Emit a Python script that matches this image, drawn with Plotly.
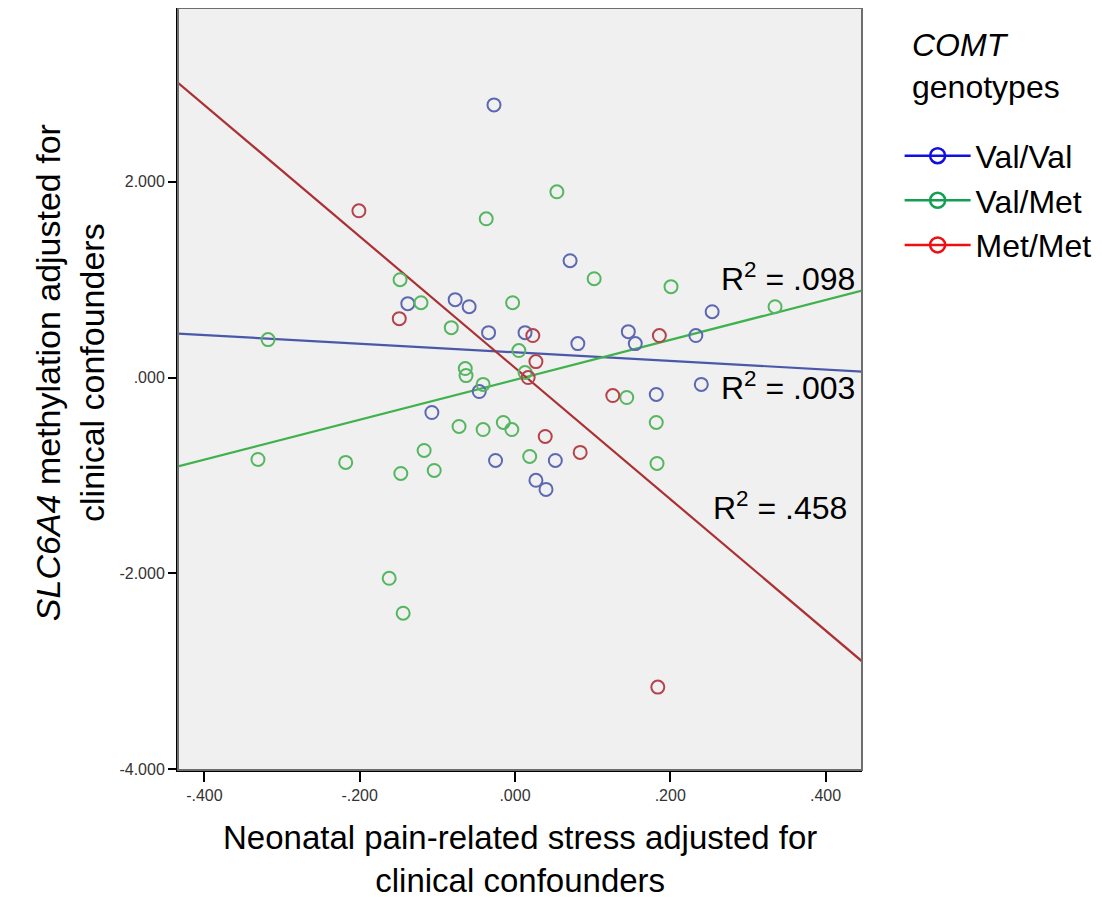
import plotly.graph_objects as go

# ---- data ----
groups = ["Val/Val", "Val/Met", "Met/Met"]

valval_x = [-0.027, 0.071, -0.077, -0.059, -0.138, -0.034, 0.013, 0.081, 0.146, 0.155,
            0.233, 0.254, 0.240, 0.182, -0.046, -0.107, -0.025, 0.052, 0.027, 0.040]
valval_y = [2.786, 1.194, 0.796, 0.724, 0.755, 0.459, 0.459, 0.347, 0.469, 0.347,
            0.429, 0.673, -0.070, -0.173, -0.143, -0.357, -0.847, -0.847, -1.050, -1.143]

valmet_x = [0.054, -0.037, 0.102, 0.201, 0.335, -0.003, -0.148, -0.121, -0.082, -0.318,
            0.005, -0.064, -0.063, -0.041, 0.013, 0.144, 0.182, 0.183, 0.019, -0.072,
            -0.041, -0.015, -0.004, -0.117, -0.104, -0.147, -0.331, -0.218, -0.162, -0.144]
valmet_y = [1.898, 1.622, 1.010, 0.929, 0.724, 0.765, 1.000, 0.765, 0.510, 0.388,
            0.276, 0.092, 0.020, -0.070, 0.051, -0.204, -0.459, -0.878, -0.806, -0.500,
            -0.531, -0.459, -0.531, -0.745, -0.949, -0.980, -0.837, -0.867, -2.051, -2.408]

metmet_x = [-0.201, -0.149, 0.023, 0.027, 0.017, 0.186, 0.126, 0.039, 0.084, 0.184]
metmet_y = [1.704, 0.602, 0.429, 0.163, 0.000, 0.429, -0.184, -0.602, -0.765, -3.163]

# fitted lines (intercept, slope) and R^2 labels
fit_intercept = [0.258, -0.023, 0.100]
fit_slope = [-0.44, 2.04, -6.71]
r2_labels = [".003", ".098", ".458"]
r2_pos_x = [0.440, 0.441, 0.430]
r2_pos_y = [-0.09, 1.03, -1.31]

x_ticks = [-0.4, -0.2, 0.0, 0.2, 0.4]
x_ticktext = ["-.400", "-.200", ".000", ".200", ".400"]
y_ticks = [-4, -2, 0, 2]
y_ticktext = ["-4.000", "-2.000", ".000", "2.000"]
x_range = [-0.434, 0.447]
y_range = [-4.01, 3.776]

marker_colors = ["#5d68b2", "#55b660", "#b4434b"]
line_colors = ["#4a58aa", "#3fb24d", "#aa3033"]
legend_colors = ["#1010e0", "#12a050", "#ee1010"]

FONT = "Arial, Liberation Sans, sans-serif"

fig = go.Figure()

xs = [valval_x, valmet_x, metmet_x]
ys = [valval_y, valmet_y, metmet_y]

# regression lines
for i in range(3):
    lx = list(x_range)
    ly = [fit_intercept[i] + fit_slope[i] * v for v in lx]
    fig.add_trace(go.Scatter(x=lx, y=ly, mode="lines",
                             line=dict(color=line_colors[i], width=2.2),
                             showlegend=False, hoverinfo="skip"))

# points
for i in range(3):
    fig.add_trace(go.Scatter(x=xs[i], y=ys[i], mode="markers", name=groups[i],
                             marker=dict(symbol="circle-open", size=13,
                                         color=marker_colors[i],
                                         line=dict(width=2, color=marker_colors[i])),
                             showlegend=False))

# legend entries
for i in range(3):
    fig.add_trace(go.Scatter(x=[None], y=[None], mode="lines+markers", name=groups[i],
                             line=dict(color=legend_colors[i], width=2.5),
                             marker=dict(symbol="circle-open", size=15,
                                         color=legend_colors[i],
                                         line=dict(width=2.5, color=legend_colors[i])),
                             showlegend=True))

# R^2 labels
for i in range(3):
    fig.add_annotation(x=r2_pos_x[i], y=r2_pos_y[i], xref="x", yref="y",
                       text="R<sup>2</sup> = " + r2_labels[i], showarrow=False,
                       xanchor="right", yanchor="middle",
                       font=dict(family=FONT, size=32, color="black"))

# axis titles
fig.add_annotation(x=-0.158, y=0.522, xref="paper", yref="paper", textangle=-90,
                   text="<i>SLC6A4</i> methylation adjusted for<br>clinical confounders",
                   showarrow=False, xanchor="center", yanchor="middle",
                   font=dict(family=FONT, size=34, color="black"))
fig.add_annotation(x=0.5, y=-0.117, xref="paper", yref="paper",
                   text="Neonatal pain-related stress adjusted for<br>clinical confounders",
                   showarrow=False, xanchor="center", yanchor="middle",
                   font=dict(family=FONT, size=33, color="black"))

# legend title
fig.add_annotation(x=1.07, y=0.978, xref="paper", yref="paper",
                   text="<i>COMT</i><br>genotypes", align="left",
                   showarrow=False, xanchor="left", yanchor="top",
                   font=dict(family=FONT, size=32, color="black"))

# frame
fig.add_shape(type="rect", xref="paper", yref="paper", x0=0, y0=0, x1=1, y1=1,
              line=dict(color="#6e6e6e", width=2), fillcolor="rgba(0,0,0,0)", layer="above")

fig.update_layout(
    width=1094, height=891,
    margin=dict(l=170, r=240, t=0, b=129),
    paper_bgcolor="white", plot_bgcolor="#f0f0f0",
    font=dict(family=FONT, color="black"),
    showlegend=True,
    legend=dict(x=1.055, y=0.842, xanchor="left", yanchor="top",
                bgcolor="rgba(0,0,0,0)",
                font=dict(family=FONT, size=32, color="black"),
                itemwidth=66, tracegroupgap=0),
    xaxis=dict(range=x_range, tickvals=x_ticks, ticktext=x_ticktext,
               showgrid=False, zeroline=False, showline=True, linecolor="black", linewidth=2,
               ticks="outside", ticklen=10, tickwidth=2, tickcolor="black",
               tickfont=dict(family=FONT, size=16, color="#333333")),
    yaxis=dict(range=y_range, tickvals=y_ticks, ticktext=y_ticktext,
               showgrid=False, zeroline=False, showline=True, linecolor="black", linewidth=2,
               ticks="outside", ticklen=8, tickwidth=2, tickcolor="black",
               tickfont=dict(family=FONT, size=16, color="#333333")),
)

fig.write_html("out.html")
